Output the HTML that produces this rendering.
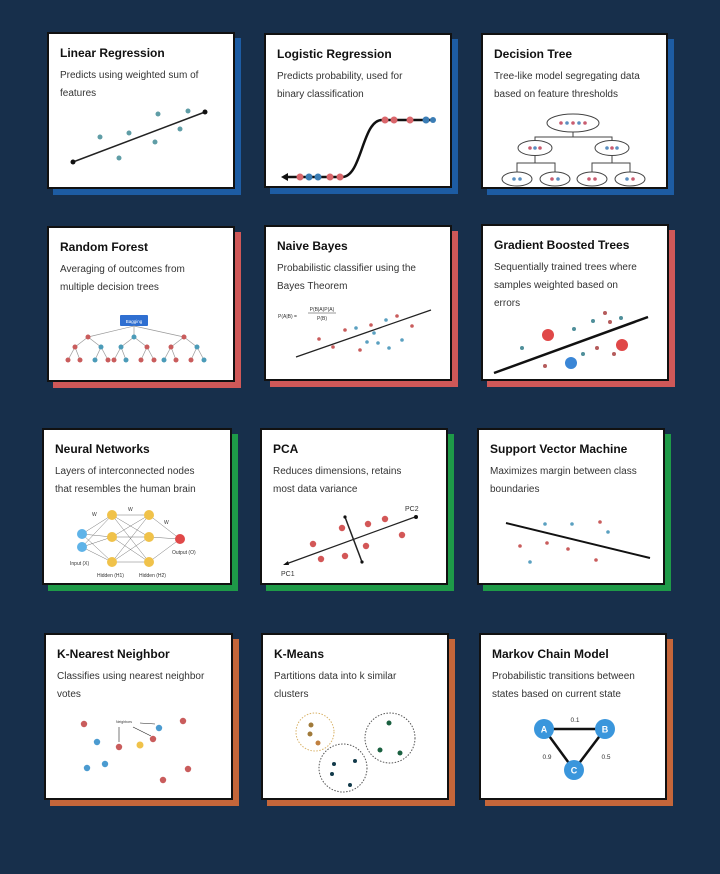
<!DOCTYPE html>
<html><head><meta charset="utf-8"><style>
*{margin:0;padding:0;box-sizing:border-box}
body{width:720px;height:874px;background:#172f4b;position:relative;overflow:hidden;font-family:"Liberation Sans",sans-serif}
.c{position:absolute;background:#fff;border:2px solid #111}
.c h3{position:absolute;left:11px;top:12px;font-size:12px;font-weight:bold;color:#111;white-space:nowrap}
.c p{position:absolute;left:11px;top:33px;font-size:10px;line-height:18px;color:#333;white-space:nowrap}
.s{position:absolute}
svg{position:absolute;left:0;top:0}
</style></head><body>
<div class="s" style="left:53px;top:38px;width:188px;height:157px;background:#1d5ca3"></div>
<div class="s" style="left:270px;top:39px;width:188px;height:155px;background:#1d5ca3"></div>
<div class="s" style="left:487px;top:39px;width:187px;height:156px;background:#1d5ca3"></div>
<div class="s" style="left:53px;top:232px;width:188px;height:156px;background:#cf5858"></div>
<div class="s" style="left:270px;top:231px;width:188px;height:156px;background:#cf5858"></div>
<div class="s" style="left:487px;top:230px;width:188px;height:157px;background:#cf5858"></div>
<div class="s" style="left:48px;top:434px;width:190px;height:157px;background:#1e9a48"></div>
<div class="s" style="left:266px;top:434px;width:188px;height:157px;background:#1e9a48"></div>
<div class="s" style="left:483px;top:434px;width:188px;height:157px;background:#1e9a48"></div>
<div class="s" style="left:50px;top:639px;width:189px;height:167px;background:#c4663a"></div>
<div class="s" style="left:267px;top:639px;width:188px;height:167px;background:#c4663a"></div>
<div class="s" style="left:485px;top:639px;width:188px;height:167px;background:#c4663a"></div>

<div class="c" style="left:47px;top:32px;width:188px;height:157px"><h3>Linear Regression</h3><p>Predicts using weighted sum of<br>features</p></div>
<div class="c" style="left:264px;top:33px;width:188px;height:155px"><h3>Logistic Regression</h3><p>Predicts probability, used for<br>binary classification</p></div>
<div class="c" style="left:481px;top:33px;width:187px;height:156px"><h3>Decision Tree</h3><p>Tree-like model segregating data<br>based on feature thresholds</p></div>
<div class="c" style="left:47px;top:226px;width:188px;height:156px"><h3>Random Forest</h3><p>Averaging of outcomes from<br>multiple decision trees</p></div>
<div class="c" style="left:264px;top:225px;width:188px;height:156px"><h3>Naive Bayes</h3><p>Probabilistic classifier using the<br>Bayes Theorem</p></div>
<div class="c" style="left:481px;top:224px;width:188px;height:157px"><h3>Gradient Boosted Trees</h3><p>Sequentially trained trees where<br>samples weighted based on<br>errors</p></div>
<div class="c" style="left:42px;top:428px;width:190px;height:157px"><h3>Neural Networks</h3><p>Layers of interconnected nodes<br>that resembles the human brain</p></div>
<div class="c" style="left:260px;top:428px;width:188px;height:157px"><h3>PCA</h3><p>Reduces dimensions, retains<br>most data variance</p></div>
<div class="c" style="left:477px;top:428px;width:188px;height:157px"><h3>Support Vector Machine</h3><p>Maximizes margin between class<br>boundaries</p></div>
<div class="c" style="left:44px;top:633px;width:189px;height:167px"><h3>K-Nearest Neighbor</h3><p>Classifies using nearest neighbor<br>votes</p></div>
<div class="c" style="left:261px;top:633px;width:188px;height:167px"><h3>K-Means</h3><p>Partitions data into k similar<br>clusters</p></div>
<div class="c" style="left:479px;top:633px;width:188px;height:167px"><h3>Markov Chain Model</h3><p>Probabilistic transitions between<br>states based on current state</p></div>

<svg width="720" height="874" viewBox="0 0 720 874" font-family="Liberation Sans, sans-serif">
<line x1="73" y1="162" x2="205" y2="112" stroke="#222" stroke-width="1.5"/>
<circle cx="73" cy="162" r="2.5" fill="#111"/><circle cx="205" cy="112" r="2.5" fill="#111"/>
<g fill="#5f9da6"><circle cx="100" cy="137" r="2.5"/><circle cx="119" cy="158" r="2.5"/><circle cx="129" cy="133" r="2.5"/><circle cx="155" cy="142" r="2.5"/><circle cx="158" cy="114" r="2.5"/><circle cx="180" cy="129" r="2.5"/><circle cx="188" cy="111" r="2.5"/></g>
<path d="M286 177 H342 C362 177 362 120 382 120 H433" fill="none" stroke="#111" stroke-width="2.5"/>
<path d="M281 177 l7 -4 v8z" fill="#111"/>
<g><circle cx="300" cy="177" r="3.5" fill="#d9666b"/><circle cx="309" cy="177" r="3.5" fill="#3b7db5"/><circle cx="318" cy="177" r="3.5" fill="#3b7db5"/><circle cx="330" cy="177" r="3.5" fill="#d9666b"/><circle cx="340" cy="177" r="3.5" fill="#d9666b"/>
<circle cx="385" cy="120" r="3.5" fill="#d9666b"/><circle cx="394" cy="120" r="3.5" fill="#d9666b"/><circle cx="410" cy="120" r="3.5" fill="#d9666b"/><circle cx="426" cy="120" r="3.5" fill="#3b7db5"/><circle cx="433" cy="120" r="3" fill="#3b7db5"/></g>
<g fill="none" stroke="#444" stroke-width="1">
<ellipse cx="573" cy="123" rx="26" ry="9"/><ellipse cx="535" cy="148" rx="17" ry="7.5"/><ellipse cx="612" cy="148" rx="17" ry="7.5"/>
<ellipse cx="517" cy="179" rx="15" ry="7"/><ellipse cx="555" cy="179" rx="15" ry="7"/><ellipse cx="592" cy="179" rx="15" ry="7"/><ellipse cx="630" cy="179" rx="15" ry="7"/>
<path d="M573 132 V137 H535 V140 M573 137 H612 V140 M535 156 V163 H517 V172 M535 163 H555 V172 M612 156 V163 H592 V172 M612 163 H630 V172"/></g>
<g fill="#c95c70"><circle cx="561" cy="123" r="1.8"/><circle cx="567" cy="123" r="1.8" fill="#5a8fc0"/><circle cx="573" cy="123" r="1.8"/><circle cx="579" cy="123" r="1.8" fill="#5a8fc0"/><circle cx="585" cy="123" r="1.8"/>
<circle cx="530" cy="148" r="1.8"/><circle cx="535" cy="148" r="1.8" fill="#5a8fc0"/><circle cx="540" cy="148" r="1.8"/><circle cx="607" cy="148" r="1.8" fill="#5a8fc0"/><circle cx="612" cy="148" r="1.8"/><circle cx="617" cy="148" r="1.8" fill="#5a8fc0"/>
<circle cx="514" cy="179" r="1.8" fill="#5a8fc0"/><circle cx="520" cy="179" r="1.8" fill="#5a8fc0"/><circle cx="552" cy="179" r="1.8"/><circle cx="558" cy="179" r="1.8" fill="#5a8fc0"/><circle cx="589" cy="179" r="1.8"/><circle cx="595" cy="179" r="1.8"/><circle cx="627" cy="179" r="1.8" fill="#5a8fc0"/><circle cx="633" cy="179" r="1.8"/></g>
<rect x="120" y="315" width="28" height="11" rx="1" fill="#2f6fd1"/>
<text x="134" y="323" font-size="4.5" fill="#fff" text-anchor="middle">Bagging</text>
<g stroke="#999" stroke-width="0.7" fill="none">
<path d="M134 326 L88 337 M134 326 L134 337 M134 326 L184 337"/>
<path d="M88 337 L75 347 M88 337 L101 347 M75 347 L68 360 M75 347 L80 360 M101 347 L95 360 M101 347 L108 360"/>
<path d="M134 337 L121 347 M134 337 L147 347 M121 347 L114 360 M121 347 L126 360 M147 347 L141 360 M147 347 L154 360"/>
<path d="M184 337 L171 347 M184 337 L197 347 M171 347 L164 360 M171 347 L176 360 M197 347 L191 360 M197 347 L204 360"/></g>
<g fill="#c95c5c"><circle cx="88" cy="337" r="2.5"/><circle cx="134" cy="337" r="2.5" fill="#4b9bb8"/><circle cx="184" cy="337" r="2.5"/>
<circle cx="75" cy="347" r="2.5"/><circle cx="101" cy="347" r="2.5" fill="#4b9bb8"/><circle cx="121" cy="347" r="2.5" fill="#4b9bb8"/><circle cx="147" cy="347" r="2.5"/><circle cx="171" cy="347" r="2.5"/><circle cx="197" cy="347" r="2.5" fill="#4b9bb8"/>
<circle cx="68" cy="360" r="2.5"/><circle cx="80" cy="360" r="2.5"/><circle cx="95" cy="360" r="2.5" fill="#4b9bb8"/><circle cx="108" cy="360" r="2.5"/><circle cx="114" cy="360" r="2.5"/><circle cx="126" cy="360" r="2.5" fill="#4b9bb8"/><circle cx="141" cy="360" r="2.5"/><circle cx="154" cy="360" r="2.5"/><circle cx="164" cy="360" r="2.5" fill="#4b9bb8"/><circle cx="176" cy="360" r="2.5"/><circle cx="191" cy="360" r="2.5"/><circle cx="204" cy="360" r="2.5" fill="#4b9bb8"/></g>
<text x="278" y="318" font-size="5" fill="#333">P(A|B) =</text>
<text x="322" y="311" font-size="5" fill="#333" text-anchor="middle">P(B|A)P(A)</text>
<line x1="308" y1="313" x2="336" y2="313" stroke="#333" stroke-width="0.5"/>
<text x="322" y="320" font-size="5" fill="#333" text-anchor="middle">P(B)</text>
<line x1="296" y1="357" x2="431" y2="310" stroke="#222" stroke-width="1.2"/>
<g fill="#c95c5c"><circle cx="319" cy="339" r="1.8"/><circle cx="333" cy="347" r="1.8"/><circle cx="345" cy="330" r="1.8"/><circle cx="356" cy="328" r="1.8" fill="#5aa0c0"/><circle cx="367" cy="342" r="1.8" fill="#5aa0c0"/><circle cx="371" cy="325" r="1.8"/><circle cx="378" cy="343" r="1.8" fill="#5aa0c0"/><circle cx="386" cy="320" r="1.8" fill="#5aa0c0"/><circle cx="389" cy="348" r="1.8" fill="#5aa0c0"/><circle cx="397" cy="316" r="1.8"/><circle cx="402" cy="340" r="1.8" fill="#5aa0c0"/><circle cx="412" cy="326" r="1.8"/><circle cx="360" cy="350" r="1.8"/><circle cx="374" cy="333" r="1.8" fill="#5aa0c0"/></g>
<line x1="494" y1="373" x2="648" y2="317" stroke="#111" stroke-width="2.5"/>
<circle cx="548" cy="335" r="6" fill="#e04848"/><circle cx="622" cy="345" r="6" fill="#e04848"/><circle cx="571" cy="363" r="6" fill="#3a86d6"/>
<g fill="#b55c5c"><circle cx="522" cy="348" r="2" fill="#4f8f9a"/><circle cx="574" cy="329" r="2" fill="#4f8f9a"/><circle cx="593" cy="321" r="2" fill="#4f8f9a"/><circle cx="605" cy="313" r="2"/><circle cx="610" cy="322" r="2"/><circle cx="621" cy="318" r="2" fill="#4f8f9a"/><circle cx="597" cy="348" r="2"/><circle cx="583" cy="354" r="2" fill="#4f8f9a"/><circle cx="614" cy="354" r="2"/><circle cx="545" cy="366" r="2"/></g>
<g stroke="#777" stroke-width="0.5">
<path d="M82 534 L112 515 M82 534 L112 537 M82 534 L112 562 M82 547 L112 515 M82 547 L112 537 M82 547 L112 562"/>
<path d="M112 515 L149 515 M112 515 L149 537 M112 515 L149 562 M112 537 L149 515 M112 537 L149 537 M112 537 L149 562 M112 562 L149 515 M112 562 L149 537 M112 562 L149 562"/>
<path d="M149 515 L180 539 M149 537 L180 539 M149 562 L180 539"/></g>
<g fill="#f0c24a"><circle cx="112" cy="515" r="5"/><circle cx="112" cy="537" r="5"/><circle cx="112" cy="562" r="5"/><circle cx="149" cy="515" r="5"/><circle cx="149" cy="537" r="5"/><circle cx="149" cy="562" r="5"/></g>
<circle cx="82" cy="534" r="5" fill="#5fb3e8"/><circle cx="82" cy="547" r="5" fill="#5fb3e8"/><circle cx="180" cy="539" r="5" fill="#e04848"/>
<g font-size="5" fill="#333"><text x="92" y="516">W</text><text x="128" y="511">W</text><text x="164" y="524">W</text>
<text x="70" y="565">Input (X)</text><text x="172" y="554">Output (O)</text><text x="97" y="577">Hidden (H1)</text><text x="139" y="577">Hidden (H2)</text></g>
<line x1="286" y1="564" x2="415" y2="517" stroke="#222" stroke-width="1.2"/>
<path d="M283 565 l5 -4 l1 4z" fill="#111"/><circle cx="416" cy="517" r="2" fill="#111"/>
<line x1="345" y1="517" x2="362" y2="562" stroke="#222" stroke-width="1.5"/>
<circle cx="345" cy="517" r="1.6" fill="#111"/><circle cx="362" cy="562" r="1.6" fill="#111"/>
<g fill="#d35757"><circle cx="342" cy="528" r="3.2"/><circle cx="368" cy="524" r="3.2"/><circle cx="385" cy="519" r="3.2"/><circle cx="313" cy="544" r="3.2"/><circle cx="402" cy="535" r="3.2"/><circle cx="366" cy="546" r="3.2"/><circle cx="321" cy="559" r="3.2"/><circle cx="345" cy="556" r="3.2"/></g>
<text x="405" y="511" font-size="7" fill="#333">PC2</text><text x="281" y="576" font-size="7" fill="#333">PC1</text>
<line x1="506" y1="523" x2="650" y2="558" stroke="#111" stroke-width="2"/>
<g fill="#c95c5c"><circle cx="545" cy="524" r="1.8" fill="#5aa0c0"/><circle cx="572" cy="524" r="1.8" fill="#5aa0c0"/><circle cx="600" cy="522" r="1.8"/><circle cx="608" cy="532" r="1.8" fill="#5aa0c0"/><circle cx="520" cy="546" r="1.8"/><circle cx="547" cy="543" r="1.8"/><circle cx="568" cy="549" r="1.8"/><circle cx="596" cy="560" r="1.8"/><circle cx="530" cy="562" r="1.8" fill="#5aa0c0"/></g>
<g fill="#c95c5c"><circle cx="84" cy="724" r="3.2"/><circle cx="183" cy="721" r="3.2"/><circle cx="119" cy="747" r="3.2"/><circle cx="153" cy="739" r="3.2"/><circle cx="188" cy="769" r="3.2"/><circle cx="163" cy="780" r="3.2"/>
<circle cx="159" cy="728" r="3.2" fill="#4b9bd0"/><circle cx="97" cy="742" r="3.2" fill="#4b9bd0"/><circle cx="105" cy="764" r="3.2" fill="#4b9bd0"/><circle cx="87" cy="768" r="3.2" fill="#4b9bd0"/><circle cx="140" cy="745" r="3.5" fill="#f0c24a"/></g>
<g stroke="#222" stroke-width="0.6" fill="none"><path d="M119 727 V742 M133 727 L151 736 M140 723 L155 724"/></g>
<text x="116" y="723" font-size="3.5" fill="#333">Neighbors</text>
<g fill="none" stroke="#555" stroke-width="1" stroke-dasharray="1.5 1.5">
<circle cx="315" cy="732" r="19" stroke="#d9b36a"/><circle cx="343" cy="768" r="24"/><circle cx="390" cy="738" r="25"/></g>
<g><circle cx="311" cy="725" r="2.5" fill="#a07a3a"/><circle cx="310" cy="734" r="2.5" fill="#a07a3a"/><circle cx="318" cy="743" r="2.5" fill="#c08040"/>
<circle cx="334" cy="764" r="2" fill="#123a4a"/><circle cx="332" cy="774" r="2" fill="#123a4a"/><circle cx="355" cy="761" r="2" fill="#123a4a"/><circle cx="350" cy="785" r="2" fill="#123a4a"/>
<circle cx="389" cy="723" r="2.5" fill="#1a6040"/><circle cx="380" cy="750" r="2.5" fill="#1a6040"/><circle cx="400" cy="753" r="2.5" fill="#1a6040"/></g>
<g stroke="#111" stroke-width="2.5"><line x1="544" y1="729" x2="605" y2="729"/><line x1="544" y1="729" x2="574" y2="770"/><line x1="605" y1="729" x2="574" y2="770"/></g>
<g fill="#3a96dc"><circle cx="544" cy="729" r="10"/><circle cx="605" cy="729" r="10"/><circle cx="574" cy="770" r="10"/></g>
<g fill="#fff" font-size="9" font-weight="bold" text-anchor="middle"><text x="544" y="732.5">A</text><text x="605" y="732.5">B</text><text x="574" y="773.5">C</text></g>
<g fill="#333" font-size="6.5" text-anchor="middle"><text x="575" y="722">0.1</text><text x="547" y="759">0.9</text><text x="606" y="759">0.5</text></g>
</svg>
</body></html>
